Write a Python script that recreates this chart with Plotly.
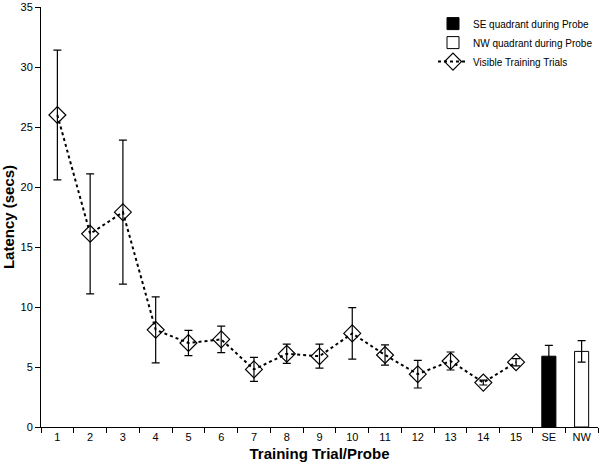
import plotly.graph_objects as go

trials = [str(i) for i in range(1, 16)]
latency = [26.0, 16.1, 17.9, 8.1, 7.0, 7.3, 4.8, 6.1, 5.9, 7.8, 6.0, 4.4, 5.5, 3.7, 5.4]
latency_err = [5.4, 5.0, 6.0, 2.75, 1.05, 1.1, 1.0, 0.8, 1.0, 2.15, 0.85, 1.15, 0.75, 0.2, 0.3]

probe_cats = ["SE", "NW"]
probe_vals = [5.9, 6.3]
probe_err = [0.9, 0.9]

all_cats = trials + probe_cats
y_ticks = [0, 5, 10, 15, 20, 25, 30, 35]

fig = go.Figure()
fig.add_trace(go.Bar(
    x=[probe_cats[0]], y=[probe_vals[0]], name="SE quadrant during Probe",
    marker=dict(color="black", line=dict(color="black", width=1)), width=0.43,
    error_y=dict(type="data", array=[probe_err[0]], color="black", thickness=1.2, width=4),
))
fig.add_trace(go.Bar(
    x=[probe_cats[1]], y=[probe_vals[1]], name="NW quadrant during Probe",
    marker=dict(color="white", line=dict(color="black", width=1)), width=0.43,
    error_y=dict(type="data", array=[probe_err[1]], color="black", thickness=1.2, width=4),
))
fig.add_trace(go.Scatter(
    x=trials, y=latency, name="Visible Training Trials", mode="lines+markers",
    line=dict(color="black", dash="dot", width=2),
    marker=dict(symbol="diamond-open", size=13, color="black", line=dict(width=1.2)),
    error_y=dict(type="data", array=latency_err, color="black", thickness=1.2, width=4),
))

font_family = "Liberation Sans, Arial, sans-serif"
fig.update_layout(
    width=600, height=470,
    margin=dict(l=41, r=2, t=7, b=43),
    plot_bgcolor="white", paper_bgcolor="white",
    barmode="overlay",
    font=dict(family=font_family, size=11, color="black"),
    showlegend=True,
    legend=dict(x=1, y=0.995, xanchor="right", yanchor="top", font=dict(size=10),
                bgcolor="rgba(255,255,255,0)", tracegroupgap=0, itemwidth=30),
    xaxis=dict(
        type="category", categoryorder="array", categoryarray=all_cats,
        range=[-0.5, 16.5], showline=True, linecolor="black", linewidth=1,
        ticks="outside", tickson="boundaries", ticklen=5, tickcolor="black",
        showgrid=False, zeroline=False,
        title=dict(text="<b>Training Trial/Probe</b>", font=dict(size=15), standoff=6),
    ),
    yaxis=dict(
        range=[0, 35], tickvals=y_ticks, showline=True, linecolor="black", linewidth=1,
        ticks="outside", ticklen=5, tickcolor="black", showgrid=False, zeroline=False,
        title=dict(text="<b>Latency (secs)</b>", font=dict(size=15), standoff=8),
    ),
)
fig.write_html("out.html", config={"displayModeBar": False},
               post_script="document.body.style.margin='0';document.body.style.overflow='hidden';")
